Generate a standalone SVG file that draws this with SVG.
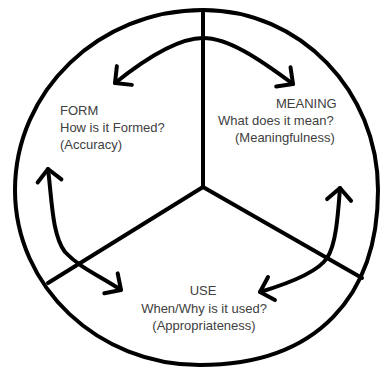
<svg xmlns="http://www.w3.org/2000/svg" width="380" height="370" viewBox="0 0 380 370">
<style>
.ln{fill:none;stroke:#000;stroke-width:4;stroke-linecap:round;stroke-linejoin:round}
.t{font-family:"Liberation Sans",Arial,sans-serif;font-size:13px;fill:#404040}
</style>
<defs>
<marker id="ah" viewBox="-16 -16 20 32" markerWidth="20" markerHeight="32" refX="0" refY="0" markerUnits="userSpaceOnUse" orient="auto-start-reverse">
<path d="M-12,-12 L0,0 L-12,12" fill="none" stroke="#000" stroke-width="4" stroke-linecap="round" stroke-linejoin="round"/>
</marker>
</defs>
<rect width="380" height="370" fill="#fff"/>
<g id="frame">
<path class="ln" d="M203,10 C300,10 378,91 378,190 C378,295 318,365 200,365 C98,365 15,287 15,190 C15,91 99,10 203,10 Z"/>
<path class="ln" d="M203,10 L203,187 M203,187 L48,283 M203,187 L362,278"/>
</g>
<g id="connectors">
<path class="ln" d="M115,83 C150,55 180,38 203,38 C228,38 258,58 293,84" marker-start="url(#ah)" marker-end="url(#ah)"/>
<path class="ln" d="M48,169 C52,200 52,235 65,252 C80,268 100,276 121,290" marker-start="url(#ah)" marker-end="url(#ah)"/>
<path class="ln" d="M340,188 C338,215 336,245 327,258 C318,272 290,283 260,292" marker-start="url(#ah)" marker-end="url(#ah)"/>
</g>
<g id="form">
<text class="t" x="60" y="115">FORM</text>
<text class="t" x="60" y="132">How is it Formed?</text>
<text class="t" x="60" y="149">(Accuracy)</text>
</g>
<g id="meaning">
<text class="t" x="276" y="108">MEANING</text>
<text class="t" x="218" y="125">What does it mean?</text>
<text class="t" x="235" y="142">(Meaningfulness)</text>
</g>
<g id="use">
<text class="t" x="203" y="295" text-anchor="middle">USE</text>
<text class="t" x="204" y="313" text-anchor="middle">When/Why is it used?</text>
<text class="t" x="204" y="330" text-anchor="middle">(Appropriateness)</text>
</g>
</svg>
